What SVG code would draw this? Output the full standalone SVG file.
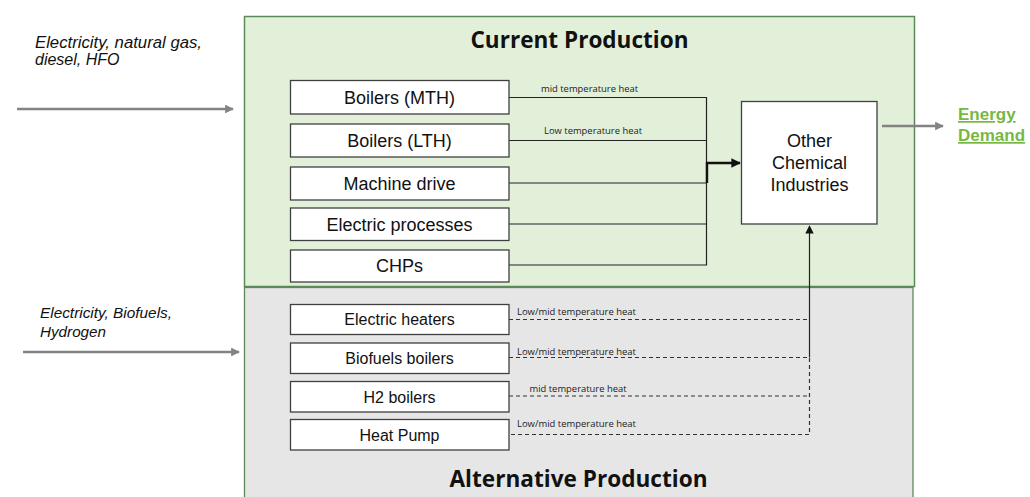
<svg xmlns="http://www.w3.org/2000/svg" width="1030" height="497" viewBox="0 0 1030 497">
<style>
.box{fill:#ffffff;stroke:#404040;stroke-width:1.3}
.bt{font-family:"Liberation Sans",Arial,sans-serif;font-size:18px;fill:#111;text-anchor:middle}
.at{font-family:"Liberation Sans",Arial,sans-serif;font-size:16px;fill:#111;text-anchor:middle}
.lbl{font-family:"Open Sans","Liberation Sans",sans-serif;font-size:8.5px;fill:#222}
.title{font-family:"Open Sans","Liberation Sans",sans-serif;font-size:23px;font-weight:700;fill:#111;text-anchor:middle}
.in{font-family:"Liberation Sans",Arial,sans-serif;font-style:italic;fill:#111}
.sol{fill:none;stroke:#222;stroke-width:1.2}
.dash{fill:none;stroke:#333;stroke-width:1.2;stroke-dasharray:4,3}
.gray{fill:none;stroke:#838383;stroke-width:2.5}
</style>
<defs>
<marker id="ah" viewBox="0 0 10 10" refX="9" refY="5" markerWidth="4" markerHeight="4" orient="auto" markerUnits="strokeWidth"><path d="M0,0 L10,5 L0,10 z" fill="#111"/></marker>
<marker id="ah2" viewBox="0 0 10 10" refX="9" refY="5" markerWidth="7" markerHeight="7" orient="auto" markerUnits="strokeWidth"><path d="M0,0 L10,5 L0,10 z" fill="#111"/></marker>
<marker id="ga" viewBox="0 0 10 10" refX="9" refY="5" markerWidth="3.5" markerHeight="3.5" orient="auto" markerUnits="strokeWidth"><path d="M0,0 L10,5 L0,10 z" fill="#838383"/></marker>
</defs>
<rect width="1030" height="497" fill="#ffffff"/>
<g id="current-production">
<rect x="244.5" y="16.5" width="670" height="270" fill="#e2efd9" stroke="#5a8a5a" stroke-width="1.5"/>
<text class="title" x="579.5" y="47.5" textLength="218" lengthAdjust="spacingAndGlyphs">Current Production</text>
</g>
<g id="alternative-production">
<rect x="244.5" y="287.5" width="668.5" height="215" fill="#e6e6e6" stroke="#5a8a5a" stroke-width="1.3"/>
<text class="title" x="578.5" y="486.5" textLength="258" lengthAdjust="spacingAndGlyphs">Alternative Production</text>
</g>
<g id="connectors">
<path class="sol" d="M509,97.5 H706.5 V265 H509"/>
<path class="sol" d="M509,140.5 H706.5"/>
<path class="sol" d="M509,183 H706.5"/>
<path class="sol" d="M509,224 H706.5"/>
<path d="M707,183 V163 H740" fill="none" stroke="#111" stroke-width="2.4" marker-end="url(#ah)"/>
<path class="dash" d="M509,319.5 H809"/>
<path class="dash" d="M509,357.5 H809.5 V434.5 H509"/>
<path class="dash" d="M509,396 H809.5"/>
<path d="M809.5,357.5 V226" fill="none" stroke="#222" stroke-width="1.2" marker-end="url(#ah2)"/>
<path class="gray" d="M17,109 H233" marker-end="url(#ga)"/>
<path class="gray" d="M23,352 H239" marker-end="url(#ga)"/>
<path class="gray" d="M882,126 H943" marker-end="url(#ga)"/>
<text class="lbl" x="541" y="91.5" textLength="97" lengthAdjust="spacingAndGlyphs">mid temperature heat</text>
<text class="lbl" x="544" y="134" textLength="98" lengthAdjust="spacingAndGlyphs">Low temperature heat</text>
<text class="lbl" x="517" y="314.5" textLength="119" lengthAdjust="spacingAndGlyphs">Low/mid temperature heat</text>
<text class="lbl" x="517" y="355" textLength="119" lengthAdjust="spacingAndGlyphs">Low/mid temperature heat</text>
<text class="lbl" x="529.5" y="391.5" textLength="97" lengthAdjust="spacingAndGlyphs">mid temperature heat</text>
<text class="lbl" x="517" y="426.5" textLength="119" lengthAdjust="spacingAndGlyphs">Low/mid temperature heat</text>
</g>
<g id="boilers-mth"><rect class="box" x="290.5" y="80.5" width="218.5" height="33.5"/><text class="bt" x="399.5" y="103.5">Boilers (MTH)</text></g>
<g id="boilers-lth"><rect class="box" x="290.5" y="124" width="218.5" height="33"/><text class="bt" x="399.5" y="146.5">Boilers (LTH)</text></g>
<g id="machine-drive"><rect class="box" x="290.5" y="167" width="218.5" height="33"/><text class="bt" x="399.5" y="189.5">Machine drive</text></g>
<g id="electric-processes"><rect class="box" x="290.5" y="208" width="218.5" height="32.5"/><text class="bt" x="399.5" y="230.5">Electric processes</text></g>
<g id="chps"><rect class="box" x="290.5" y="250" width="218.5" height="32"/><text class="bt" x="399.5" y="272">CHPs</text></g>
<g id="other-chemical-industries"><rect class="box" x="741.5" y="101.5" width="135.5" height="122.5"/>
<text class="bt" x="809.5" y="147">Other</text><text class="bt" x="809.5" y="169">Chemical</text><text class="bt" x="809.5" y="191">Industries</text></g>
<g id="electric-heaters"><rect class="box" x="290.5" y="304.5" width="218.5" height="30"/><text class="at" x="399.5" y="325">Electric heaters</text></g>
<g id="biofuels-boilers"><rect class="box" x="290.5" y="343" width="218.5" height="30.5"/><text class="at" x="399.5" y="364">Biofuels boilers</text></g>
<g id="h2-boilers"><rect class="box" x="290.5" y="381.5" width="218.5" height="30.5"/><text class="at" x="399.5" y="402.5">H2 boilers</text></g>
<g id="heat-pump"><rect class="box" x="290.5" y="419.5" width="218.5" height="30.5"/><text class="at" x="399.5" y="441">Heat Pump</text></g>
<g id="input-current">
<text class="in" font-size="16" x="35" y="48" textLength="167" lengthAdjust="spacingAndGlyphs">Electricity, natural gas,</text>
<text class="in" font-size="16" x="35" y="64.5">diesel, HFO</text>
</g>
<g id="input-alternative">
<text class="in" font-family="'Open Sans','Liberation Sans',sans-serif" font-size="14" x="40" y="318" textLength="132" lengthAdjust="spacingAndGlyphs">Electricity, Biofuels,</text>
<text class="in" font-family="'Open Sans','Liberation Sans',sans-serif" font-size="14" x="40" y="337" textLength="66" lengthAdjust="spacingAndGlyphs">Hydrogen</text>
</g>
<g id="energy-demand">
<text font-family="'Liberation Sans',Arial,sans-serif" font-size="17" font-weight="700" fill="#77b744" text-decoration="underline" x="958" y="120">Energy</text>
<text font-family="'Liberation Sans',Arial,sans-serif" font-size="17" font-weight="700" fill="#77b744" text-decoration="underline" x="958" y="141">Demand</text>
</g>
</svg>
